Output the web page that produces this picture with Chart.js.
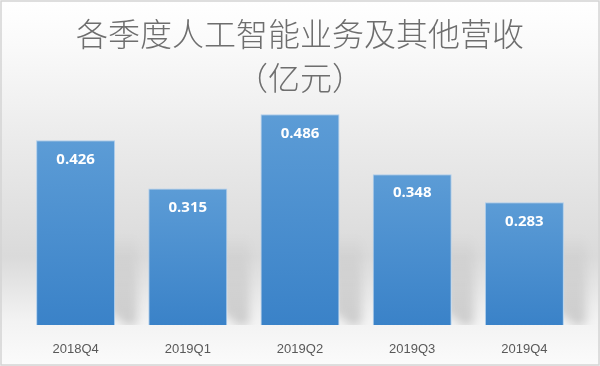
<!DOCTYPE html>
<html>
<head>
<meta charset="utf-8">
<script src="https://cdn.jsdelivr.net/npm/chart.js@4.4.1/dist/chart.umd.min.js"></script>
<style>
  html, body { margin: 0; padding: 0; background: #ffffff; }
  #wrap { position: relative; width: 600px; height: 366px; }
</style>
</head>
<body>
<div id="wrap"><canvas id="c"></canvas></div>
<script>
const titleLines = ['各季度人工智能业务及其他营收', '（亿元）'];
const categories = ['2018Q4', '2019Q1', '2019Q2', '2019Q3', '2019Q4'];
const revenue = [0.426, 0.315, 0.486, 0.348, 0.283];

const bgPlugin = {
  id: 'bg',
  beforeDraw(chart) {
    const ctx = chart.ctx, w = chart.width, h = chart.height;
    const g = ctx.createLinearGradient(0, 0, 0, h);
    g.addColorStop(0, '#ffffff');
    g.addColorStop(0.12, '#fafafa');
    g.addColorStop(0.40, '#eaeaea');
    g.addColorStop(0.70, '#dadada');
    g.addColorStop(0.88, '#f3f3f3');
    g.addColorStop(1, '#fbfbfb');
    ctx.save();
    ctx.fillStyle = g;
    ctx.fillRect(0, 0, w, h);
    ctx.restore();
  },
  afterDraw(chart) {
    const ctx = chart.ctx;
    ctx.save();
    ctx.strokeStyle = '#d4d4d4';
    ctx.lineWidth = 1.5;
    ctx.strokeRect(1, 1, chart.width - 2, chart.height - 2);
    ctx.restore();
  }
};

const shadowPlugin = {
  id: 'barShadow',
  beforeDatasetsDraw(chart) {
    const ctx = chart.ctx;
    const meta = chart.getDatasetMeta(0);
    meta.data.forEach(bar => {
      const right = bar.x + bar.width / 2;
      const base = bar.base;
      ctx.save();
      ctx.beginPath();
      ctx.rect(right, base - 120, 40, 120);
      ctx.clip();
      ctx.filter = 'blur(5px)';
      const g = ctx.createLinearGradient(0, base - 90, 0, base);
      g.addColorStop(0, 'rgba(0,0,0,0)');
      g.addColorStop(0.6, 'rgba(0,0,0,0.09)');
      g.addColorStop(1, 'rgba(0,0,0,0.16)');
      ctx.fillStyle = g;
      ctx.beginPath();
      ctx.moveTo(right - 6, base - 90);
      ctx.lineTo(right + 22, base - 90);
      ctx.lineTo(right + 22, base - 2);
      ctx.lineTo(right + 13, base + 2);
      ctx.lineTo(right - 6, base - 14);
      ctx.closePath();
      ctx.fill();
      ctx.restore();
    });
  }
};

const labelPlugin = {
  id: 'valueLabels',
  afterDatasetsDraw(chart) {
    const ctx = chart.ctx;
    const meta = chart.getDatasetMeta(0);
    ctx.save();
    ctx.fillStyle = '#ffffff';
    ctx.font = 'bold 15px "Open Sans", "Liberation Sans", sans-serif';
    ctx.textAlign = 'center';
    ctx.textBaseline = 'middle';
    meta.data.forEach((bar, i) => {
      ctx.fillText(revenue[i].toFixed(3), bar.x, bar.y + 19);
    });
    ctx.restore();
  }
};

function barFill(context) {
  const chart = context.chart;
  const ys = chart.scales && chart.scales.y;
  if (!chart.chartArea || !ys) return '#5b9bd5';
  const top = ys.getPixelForValue(context.raw);
  const base = ys.getPixelForValue(0);
  const g = chart.ctx.createLinearGradient(0, top, 0, base);
  g.addColorStop(0, '#5c9cd6');
  g.addColorStop(1, '#3a82c8');
  return g;
}

new Chart(document.getElementById('c'), {
  type: 'bar',
  data: {
    labels: categories,
    datasets: [{
      data: revenue,
      backgroundColor: barFill,
      borderColor: 'rgba(168,203,236,0.9)',
      borderWidth: 1,
      borderSkipped: 'bottom',
      barPercentage: 0.704,
      categoryPercentage: 1.0
    }]
  },
  options: {
    responsive: true,
    maintainAspectRatio: false,
    animation: false,
    layout: { padding: { top: 0, left: 19.5, right: 19.5, bottom: 0 } },
    plugins: {
      legend: { display: false },
      tooltip: { enabled: false },
      title: {
        display: true,
        text: titleLines,
        color: '#6e6e6e',
        font: { family: '"Noto Sans CJK SC", sans-serif', size: 32, weight: '300', lineHeight: 1.375 },
        padding: { top: 11.5, bottom: 1 }
      }
    },
    scales: {
      x: {
        grid: { display: false, drawTicks: false },
        border: { display: false },
        ticks: {
          color: '#595959',
          font: { family: '"Liberation Sans", sans-serif', size: 13 },
          padding: 17
        },
        afterFit(scale) { scale.height = 41; }
      },
      y: {
        display: false,
        min: 0,
        max: 0.518
      }
    }
  },
  plugins: [bgPlugin, shadowPlugin, labelPlugin]
});
</script>
</body>
</html>
